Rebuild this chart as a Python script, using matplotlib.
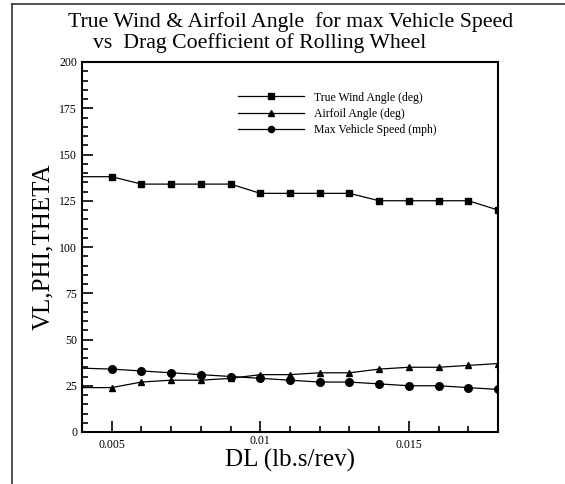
import matplotlib.pyplot as plt
from matplotlib.ticker import MultipleLocator
from matplotlib.lines import Line2D
from matplotlib.transforms import ScaledTranslation

# data (first point sits on the left axis edge, no marker)
dl = [0.004, 0.005, 0.006, 0.007, 0.008, 0.009, 0.010, 0.011, 0.012,
      0.013, 0.014, 0.015, 0.016, 0.017, 0.018]
true_wind = [138, 138, 134, 134, 134, 134, 129, 129, 129, 129, 125, 125, 125, 125, 120]
airfoil = [24, 24, 27, 28, 28, 29, 31, 31, 32, 32, 34, 35, 35, 36, 37]
speed = [34.5, 34, 33, 32, 31, 30, 29, 28, 27, 27, 26, 25, 25, 24, 23]
labels = ['True Wind Angle (deg)', 'Airfoil Angle (deg)', 'Max Vehicle Speed (mph)']

plt.rcParams['font.family'] = ['Liberation Serif', 'DejaVu Serif']

fig = plt.figure(figsize=(5.65, 4.84), dpi=100)
ax = fig.add_axes([82/565, 52/484, 416/565, 370/484])

mk = slice(1, None)
ax.plot(dl, true_wind, '-', color='black', lw=0.9, marker='s', ms=4.6, markevery=mk, label=labels[0])
ax.plot(dl, airfoil, '-', color='black', lw=0.9, marker='^', ms=5, markevery=mk, label=labels[1])
ax.plot(dl, speed, '-', color='black', lw=0.9, marker='o', ms=5.5, markevery=mk, label=labels[2])

ax.set_xlim(0.004, 0.018)
ax.set_ylim(0, 200)
ax.xaxis.set_major_locator(MultipleLocator(0.005))
ax.xaxis.set_minor_locator(MultipleLocator(0.001))
ax.yaxis.set_major_locator(MultipleLocator(25))
ax.yaxis.set_minor_locator(MultipleLocator(5))
ax.set_xticks([0.005, 0.01, 0.015])
ax.set_xticklabels(['0.005', '0.01', '0.015'])
ax.tick_params(which='both', direction='in', top=False, right=False, labelsize=8.5, width=1.2)
ax.tick_params(which='major', length=8)
ax.tick_params(which='minor', length=4.5)
ax.tick_params(axis='x', pad=5)
for s in ax.spines.values():
    s.set_linewidth(1.5)
# the 0.01 label sits a little higher in the original
lab = ax.get_xticklabels()[1]
lab.set_transform(lab.get_transform() + ScaledTranslation(0, 3/72, fig.dpi_scale_trans))

ax.set_xlabel('DL (lb.s/rev)', fontsize=18)
ax.set_ylabel('VL,PHI,THETA', fontsize=18)
ax.xaxis.set_label_coords(0.5, -0.045)
ax.yaxis.set_label_coords(-0.067, 0.5)

ax.legend(loc='upper left', bbox_to_anchor=(0.375, 0.92), frameon=False, fontsize=8.5,
          handlelength=5.6, handletextpad=0.8, labelspacing=0.35, markerscale=0.8,
          borderaxespad=0, borderpad=0)

fig.text(291/565, 1 - 22/484, 'True Wind & Airfoil Angle  for max Vehicle Speed',
         ha='center', va='center', fontsize=15.7)
fig.text(93/565, 1 - 43/484, 'vs  Drag Coefficient of Rolling Wheel',
         ha='left', va='center', fontsize=15.7)

# screenshot frame: top and left edges only
fig.add_artist(Line2D([12/565, 1], [1 - 4/484, 1 - 4/484], color='#333333', lw=1.2))
fig.add_artist(Line2D([12/565, 12/565], [0, 1 - 4/484], color='#333333', lw=1.2))

fig.savefig('out.png', dpi=100)
